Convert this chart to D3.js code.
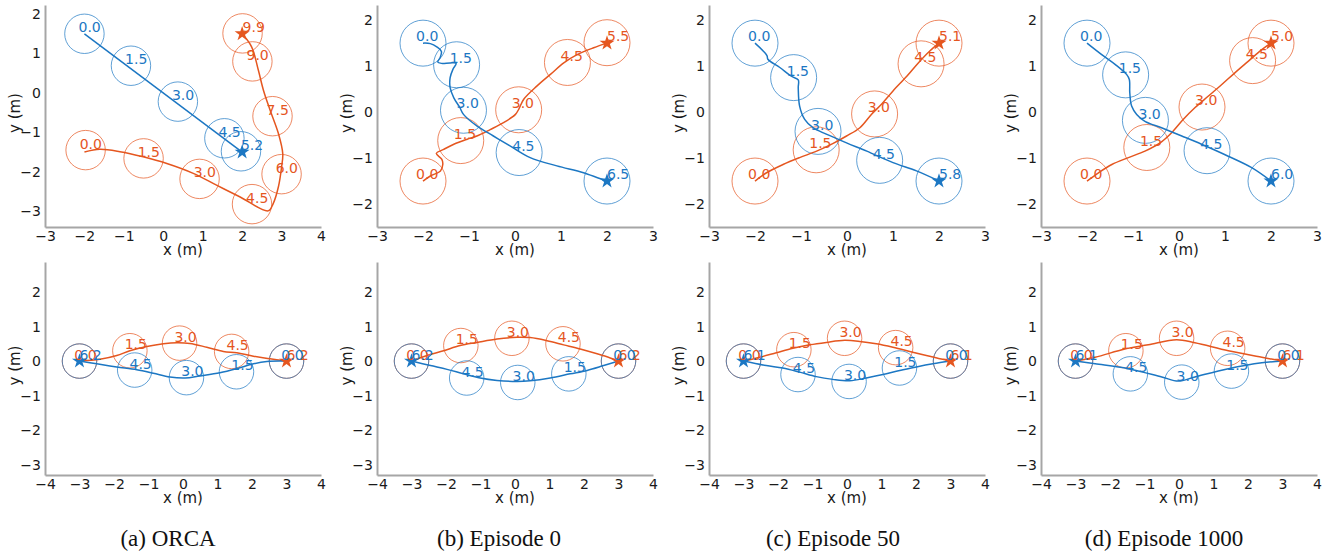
<!DOCTYPE html>
<html>
<head>
<meta charset="utf-8">
<script src="https://cdn.jsdelivr.net/npm/d3@7"></script>
<style>
  body { margin: 0; background: #fff; }
  svg { display: block; }
  text { font-family: 'DejaVu Sans', sans-serif; }
  .caption { font-family: 'Liberation Serif', 'Times New Roman', serif; }
</style>
</head>
<body>
<svg id="fig" width="1337" height="552"></svg>
<script>
// ---- values (positions in m, times in s) ----
const captions = ['(a) ORCA', '(b) Episode 0', '(c) Episode 50', '(d) Episode 1000'];

// axis ticks
const ticksX34 = [-3, -2, -1, 0, 1, 2, 3, 4];
const ticksX33 = [-3, -2, -1, 0, 1, 2, 3];
const ticksX44 = [-4, -3, -2, -1, 0, 1, 2, 3, 4];
const ticksY32 = [-3, -2, -1, 0, 1, 2];
const ticksY22 = [-2, -1, 0, 1, 2];

// top row (crossing): trajectory points [x, y]
const orcaCrossBlue = [[-2, 1.5], [2, -1.5]];
const orcaCrossOrange = [[-2, -1.5], [-1.61, -1.43], [-1.10, -1.49], [-0.51, -1.62], [0.09, -1.79], [0.76, -2.04],
  [1.35, -2.34], [1.95, -2.64], [2.66, -2.99], [2.79, -2.80], [2.92, -2.38], [3.00, -1.88], [3.03, -1.54],
  [2.92, -1.03], [2.71, -0.44], [2.54, 0.07], [2.41, 0.58], [2.24, 1.17], [2, 1.5]];
const ep0CrossBlue = [[-2, 1.5], [-1.84, 1.49], [-1.70, 1.42], [-1.60, 1.32], [-1.63, 1.18], [-1.68, 1.09],
  [-1.60, 1.06], [-1.41, 1.07], [-1.28, 1.06], [-1.35, 0.93], [-1.41, 0.75], [-1.41, 0.53], [-1.33, 0.31],
  [-1.20, 0.10], [-1.12, -0.05], [-0.83, -0.30], [-0.47, -0.52], [-0.10, -0.74], [0.33, -0.99],
  [0.91, -1.17], [1.49, -1.32], [2, -1.5]];
const ep0CrossOrange = [[-2, -1.5], [-1.84, -1.39], [-1.62, -1.28], [-1.57, -1.14], [-1.59, -1.03], [-1.71, -0.90],
  [-1.55, -0.81], [-1.33, -0.70], [-1.04, -0.59], [-0.83, -0.52], [-0.54, -0.38], [-0.25, -0.23], [0.01, -0.05],
  [0.08, 0.06], [0.19, 0.28], [0.48, 0.57], [0.77, 0.82], [1.06, 1.07], [1.35, 1.25], [1.71, 1.40], [2, 1.5]];
const ep50CrossBlue = [[-2, 1.5], [-1.74, 1.23], [-1.72, 1.15], [-1.46, 0.97], [-1.21, 0.78], [-1.06, 0.70],
  [-1.06, 0.53], [-1.03, 0.13], [-0.92, -0.16], [-0.74, -0.34], [-0.45, -0.48], [-0.01, -0.67], [0.43, -0.85],
  [1.00, -1.10], [1.51, -1.28], [2, -1.5]];
const ep50CrossOrange = [[-2, -1.5], [-1.75, -1.32], [-1.39, -1.14], [-1.03, -0.99], [-0.66, -0.85], [-0.30, -0.68],
  [-0.01, -0.52], [0.28, -0.34], [0.53, -0.05], [0.75, 0.17], [1.00, 0.46], [1.30, 0.78], [1.55, 1.07],
  [1.80, 1.33], [2, 1.5]];
const ep1000CrossBlue = [[-2, 1.5], [-1.68, 1.25], [-1.39, 1.04], [-1.14, 0.82], [-1.08, 0.71], [-1.07, 0.42],
  [-1.03, 0.13], [-0.92, -0.05], [-0.74, -0.20], [-0.38, -0.34], [0.06, -0.52], [0.49, -0.70], [1.07, -0.96],
  [1.58, -1.21], [2, -1.5]];
const ep1000CrossOrange = [[-2, -1.5], [-1.75, -1.32], [-1.46, -1.14], [-1.10, -0.99], [-0.74, -0.85], [-0.41, -0.67],
  [-0.16, -0.45], [0.09, -0.16], [0.35, 0.10], [0.64, 0.35], [0.93, 0.60], [1.22, 0.86], [1.51, 1.11],
  [1.80, 1.36], [2, 1.5]];

// top row snapshots [time, x, y]
const orcaCrossBlueSnaps = [[0.0, -2, 1.5], [1.5, -0.82, 0.69], [3.0, 0.37, -0.22], [4.5, 1.55, -1.15], [5.2, 1.97, -1.48]];
const orcaCrossOrangeSnaps = [[0.0, -1.97, -1.45], [1.5, -0.50, -1.66], [3.0, 0.92, -2.18], [4.5, 2.25, -2.82],
  [6.0, 3.0, -2.06], [7.5, 2.77, -0.59], [9.0, 2.26, 0.80], [9.9, 2.01, 1.51]];
const ep0CrossBlueSnaps = [[0.0, -2, 1.5], [1.5, -1.27, 1.03], [3.0, -1.12, 0.04], [4.5, 0.09, -0.88], [6.5, 2.0, -1.5]];
const ep0CrossOrangeSnaps = [[0.0, -2, -1.5], [1.5, -1.18, -0.62], [3.0, 0.08, 0.05], [4.5, 1.14, 1.08], [5.5, 2.0, 1.51]];
const ep50CrossBlueSnaps = [[0.0, -2, 1.5], [1.5, -1.16, 0.75], [3.0, -0.63, -0.42], [4.5, 0.71, -1.05], [5.8, 2.0, -1.5]];
const ep50CrossOrangeSnaps = [[0.0, -2, -1.5], [1.5, -0.67, -0.82], [3.0, 0.60, -0.04], [4.5, 1.61, 1.05], [5.1, 2.0, 1.5]];
const ep1000CrossBlueSnaps = [[0.0, -2, 1.5], [1.5, -1.16, 0.81], [3.0, -0.73, -0.18], [4.5, 0.61, -0.84], [6.0, 2.0, -1.5]];
const ep1000CrossOrangeSnaps = [[0.0, -2, -1.5], [1.5, -0.70, -0.77], [3.0, 0.50, 0.11], [4.5, 1.60, 1.12], [5.0, 2.0, 1.5]];

// bottom row (swapping): trajectory points [x, y]
const orcaSwapBlue = [[3, 0], [2.43, -0.01], [2.04, -0.08], [1.56, -0.22], [1.07, -0.34], [0.49, -0.43], [0.06, -0.49],
  [-0.38, -0.46], [-0.86, -0.35], [-1.34, -0.25], [-1.92, -0.17], [-2.50, -0.08], [-3, 0]];
const orcaSwapOrange = [[-3, 0], [-2.41, 0.05], [-1.92, 0.16], [-1.54, 0.30], [-1.05, 0.42], [-0.57, 0.50], [-0.18, 0.53],
  [0.20, 0.51], [0.69, 0.40], [1.17, 0.28], [1.56, 0.24], [2.04, 0.14], [2.52, 0.07], [3, 0]];
const ep0SwapBlue = [[3, 0], [2.57, -0.13], [2.09, -0.27], [1.60, -0.37], [1.02, -0.49], [0.44, -0.57], [0.06, -0.59],
  [-0.52, -0.56], [-1.01, -0.49], [-1.49, -0.37], [-1.97, -0.24], [-2.45, -0.13], [-3, 0]];
const ep0SwapOrange = [[-3, 0], [-2.55, 0.16], [-2.07, 0.30], [-1.59, 0.45], [-1.10, 0.54], [-0.52, 0.64], [0.06, 0.69],
  [0.44, 0.68], [0.93, 0.59], [1.41, 0.47], [1.89, 0.35], [2.38, 0.21], [2.76, 0.09], [3, 0]];
const ep50SwapBlue = [[3, 0], [2.49, -0.08], [2.01, -0.17], [1.53, -0.27], [1.04, -0.39], [0.56, -0.49], [0.08, -0.57],
  [-0.41, -0.53], [-0.89, -0.45], [-1.37, -0.32], [-1.86, -0.20], [-2.34, -0.13], [-3, 0]];
const ep50SwapOrange = [[-3, 0], [-2.53, 0.11], [-2.05, 0.24], [-1.57, 0.37], [-1.08, 0.47], [-0.60, 0.54], [-0.07, 0.60],
  [0.37, 0.57], [0.85, 0.50], [1.33, 0.40], [1.82, 0.28], [2.30, 0.16], [2.69, 0.07], [3, 0]];
const ep1000SwapBlue = [[3, 0], [2.40, -0.05], [1.43, -0.22], [0.46, -0.46], [-0.02, -0.58], [-0.50, -0.46],
  [-1.47, -0.22], [-2.43, -0.08], [-3, 0]];
const ep1000SwapOrange = [[-3, 0], [-2.43, 0.11], [-1.57, 0.35], [-0.89, 0.47], [-0.07, 0.62], [0.46, 0.53],
  [1.43, 0.30], [2.40, 0.11], [3, 0]];

// bottom row snapshots [time, x, y]
const orcaSwapBlueSnaps = [[0.0, 3, 0], [1.5, 1.55, -0.31], [3.0, 0.10, -0.48], [4.5, -1.40, -0.26], [6.2, -3, 0]];
const orcaSwapOrangeSnaps = [[0.0, -3, 0], [1.5, -1.54, 0.30], [3.0, -0.10, 0.52], [4.5, 1.41, 0.28], [6.2, 3, 0]];
const ep0SwapBlueSnaps = [[0.0, 3, 0], [1.5, 1.56, -0.37], [3.0, 0.08, -0.62], [4.5, -1.40, -0.49], [6.2, -3, 0]];
const ep0SwapOrangeSnaps = [[0.0, -3, 0], [1.5, -1.57, 0.45], [3.0, -0.09, 0.66], [4.5, 1.39, 0.50], [6.2, 3, 0]];
const ep50SwapBlueSnaps = [[0.0, 3, 0], [1.5, 1.52, -0.20], [3.0, 0.06, -0.59], [4.5, -1.42, -0.39], [6.1, -3, 0]];
const ep50SwapOrangeSnaps = [[0.0, -3, 0], [1.5, -1.54, 0.33], [3.0, -0.07, 0.66], [4.5, 1.41, 0.39], [6.1, 3, 0]];
const ep1000SwapBlueSnaps = [[0.0, 3, 0], [1.5, 1.52, -0.29], [3.0, 0.08, -0.61], [4.5, -1.41, -0.37], [6.1, -3, 0]];
const ep1000SwapOrangeSnaps = [[0.0, -3, 0], [1.5, -1.54, 0.30], [3.0, -0.07, 0.66], [4.5, 1.41, 0.37], [6.1, 3, 0]];

const agentRadius = 0.5;

// ---- layout ----
const blue = '#1c77c3', orange = '#e5561f';
const colLeft = [45, 377, 709, 1041];
const plotW = 276;
const rows = [
    { top: 5, bottom: 227 },
    { top: 262, bottom: 475 }
];

const panels = [
    { row: 0, col: 0, xd: [-3, 4], yd: [-3.4, 2.23], xt: ticksX34, yt: ticksY32,
      blue: orcaCrossBlue, orange: orcaCrossOrange, blueSnaps: orcaCrossBlueSnaps, orangeSnaps: orcaCrossOrangeSnaps },
    { row: 0, col: 1, xd: [-3, 3], yd: [-2.5, 2.33], xt: ticksX33, yt: ticksY22,
      blue: ep0CrossBlue, orange: ep0CrossOrange, blueSnaps: ep0CrossBlueSnaps, orangeSnaps: ep0CrossOrangeSnaps },
    { row: 0, col: 2, xd: [-3, 3], yd: [-2.5, 2.33], xt: ticksX33, yt: ticksY22,
      blue: ep50CrossBlue, orange: ep50CrossOrange, blueSnaps: ep50CrossBlueSnaps, orangeSnaps: ep50CrossOrangeSnaps },
    { row: 0, col: 3, xd: [-3, 3], yd: [-2.5, 2.33], xt: ticksX33, yt: ticksY22,
      blue: ep1000CrossBlue, orange: ep1000CrossOrange, blueSnaps: ep1000CrossBlueSnaps, orangeSnaps: ep1000CrossOrangeSnaps },
    { row: 1, col: 0, xd: [-4, 4], yd: [-3.3, 2.87], xt: ticksX44, yt: ticksY32,
      blue: orcaSwapBlue, orange: orcaSwapOrange, blueSnaps: orcaSwapBlueSnaps, orangeSnaps: orcaSwapOrangeSnaps },
    { row: 1, col: 1, xd: [-4, 4], yd: [-3.3, 2.87], xt: ticksX44, yt: ticksY32,
      blue: ep0SwapBlue, orange: ep0SwapOrange, blueSnaps: ep0SwapBlueSnaps, orangeSnaps: ep0SwapOrangeSnaps },
    { row: 1, col: 2, xd: [-4, 4], yd: [-3.3, 2.87], xt: ticksX44, yt: ticksY32,
      blue: ep50SwapBlue, orange: ep50SwapOrange, blueSnaps: ep50SwapBlueSnaps, orangeSnaps: ep50SwapOrangeSnaps },
    { row: 1, col: 3, xd: [-4, 4], yd: [-3.3, 2.87], xt: ticksX44, yt: ticksY32,
      blue: ep1000SwapBlue, orange: ep1000SwapOrange, blueSnaps: ep1000SwapBlueSnaps, orangeSnaps: ep1000SwapOrangeSnaps }
];

const svg = d3.select('#fig');

panels.forEach(p => {
    const r = rows[p.row];
    const left = colLeft[p.col];
    const x = d3.scaleLinear().domain(p.xd).range([left, left + plotW]);
    const y = d3.scaleLinear().domain(p.yd).range([r.bottom, r.top]);
    const g = svg.append('g');

    // axes: only left and bottom spines, no tick marks
    const fmt = d3.format('d');
    const xAxis = g.append('g')
        .attr('transform', 'translate(0,' + r.bottom + ')')
        .call(d3.axisBottom(x).tickValues(p.xt).tickFormat(fmt).tickSize(0).tickPadding(4));
    const yAxis = g.append('g')
        .attr('transform', 'translate(' + left + ',0)')
        .call(d3.axisLeft(y).tickValues(p.yt).tickFormat(fmt).tickSize(0).tickPadding(4));
    [xAxis, yAxis].forEach(a => {
        a.select('.domain').attr('stroke', '#a6a6a6').attr('stroke-width', 2);
        a.selectAll('text').attr('font-size', 14).attr('fill', '#1a1a1a')
            .attr('font-family', "'DejaVu Sans', sans-serif");
    });

    g.append('text')
        .attr('x', left + plotW / 2)
        .attr('y', r.bottom + 28)
        .attr('text-anchor', 'middle')
        .attr('font-size', 15)
        .attr('fill', '#1a1a1a')
        .text('x (m)');
    g.append('text')
        .attr('transform', 'translate(' + (left - 25) + ',' + ((r.top + r.bottom) / 2 - 3) + ') rotate(-90)')
        .attr('text-anchor', 'middle')
        .attr('font-size', 15)
        .attr('fill', '#1a1a1a')
        .text('y (m)');

    const rad = x(agentRadius) - x(0);
    const line = d3.line()
        .x(d => x(d[0]))
        .y(d => y(d[1]))
        .curve(d3.curveCatmullRom.alpha(0.5));

    const agents = [
        { path: p.orange, snaps: p.orangeSnaps, color: orange },
        { path: p.blue, snaps: p.blueSnaps, color: blue }
    ];

    // agent footprints at snapshot times
    agents.forEach(a => {
        g.append('g').selectAll('circle')
            .data(a.snaps)
            .enter().append('circle')
            .attr('cx', d => x(d[1]))
            .attr('cy', d => y(d[2]))
            .attr('r', rad)
            .attr('fill', 'none')
            .attr('stroke', a.color)
            .attr('stroke-opacity', 0.7)
            .attr('stroke-width', 1);
    });

    // trajectories
    agents.forEach(a => {
        g.append('path')
            .datum(a.path)
            .attr('d', line)
            .attr('fill', 'none')
            .attr('stroke', a.color)
            .attr('stroke-width', 1.5);
    });

    // goal stars
    agents.forEach(a => {
        const end = a.path[a.path.length - 1];
        g.append('path')
            .attr('d', d3.symbol().type(d3.symbolStar).size(70)())
            .attr('transform', 'translate(' + x(end[0]) + ',' + y(end[1]) + ')')
            .attr('fill', a.color);
    });

    // time labels
    agents.forEach(a => {
        const last = a.snaps.length - 1;
        g.append('g').selectAll('text')
            .data(a.snaps)
            .enter().append('text')
            .attr('x', (d, i) => x(d[1] - (i === last ? 0 : 0.15)))
            .attr('y', d => y(d[2] + 0.04))
            .attr('font-size', 14)
            .attr('fill', a.color)
            .text(d => d[0].toFixed(1));
    });
});

// captions
const captionX = [168, 499, 833, 1164];
svg.selectAll('.caption')
    .data(captions)
    .enter().append('text')
    .attr('class', 'caption')
    .attr('x', (d, i) => captionX[i])
    .attr('y', 546)
    .attr('text-anchor', 'middle')
    .attr('font-size', 23)
    .attr('fill', '#111')
    .text(d => d);
</script>
</body>
</html>
